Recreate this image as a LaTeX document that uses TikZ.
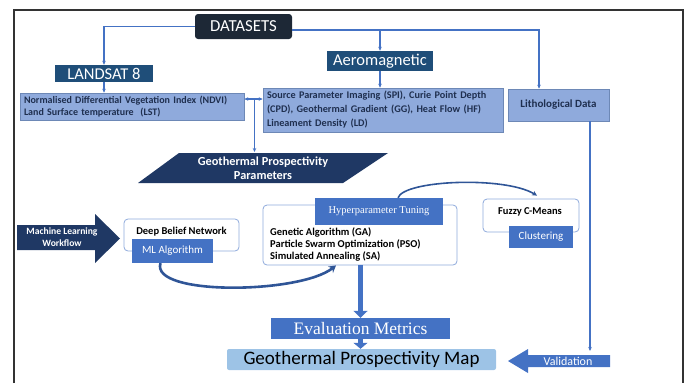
\documentclass[tikz,border=0pt]{standalone}
\usepackage{fontspec}
\setmainfont{Carlito}
\newfontfamily\cambria{Liberation Serif}
\usetikzlibrary{arrows.meta}
\definecolor{inkbox}{HTML}{1D2836}
\definecolor{navy}{HTML}{1F3864}
\definecolor{steel}{HTML}{1F4E79}
\definecolor{accent}{HTML}{4472C4}
\definecolor{paleblue}{HTML}{8FAADC}
\definecolor{skyblue}{HTML}{9DC3E6}
\definecolor{deepblue}{HTML}{2F5597}
\definecolor{txtnavy}{HTML}{1F2F4F}
\begin{document}
\begin{tikzpicture}[x=1pt, y=-1pt,
    conn/.style={draw=accent, line width=1.1pt, -{Stealth[length=4pt,width=3.5pt]}},
    darkhead/.style={fill=steel, text=white, inner sep=0pt, font=\fontsize{16.5}{16}\selectfont},
    databox/.style={fill=paleblue, draw=deepblue!70, line width=0.6pt, inner xsep=4pt, inner ysep=0pt,
      align=left, text=txtnavy, font=\bfseries\fontsize{10}{11.5}\selectfont},
    wbox/.style={draw=paleblue, line width=0.8pt, rounded corners=4pt, fill=white, inner sep=0pt},
    bluetag/.style={fill=accent, text=white, inner sep=0pt, font=\fontsize{11}{11}\selectfont},
    boldtxt/.style={inner sep=0pt, font=\bfseries\fontsize{10.5}{12}\selectfont},
    fatarrow/.style={draw=accent, line width=4.5pt, -{Triangle[width=14pt,length=7pt]}}]
  \useasboundingbox (0,0) rectangle (687,383);
  \draw[line width=1.6pt, black!80] (14,383) -- (14,10) -- (683,10) -- (683,383);

  \node[fill=inkbox, text=white, rounded corners=3pt, minimum width=97pt, minimum height=25pt,
    inner sep=0pt, font=\fontsize{16.8}{16}\selectfont] (dat) at (243.5,26.5) {DATASETS};
  \node[darkhead, minimum width=98pt, minimum height=17pt] (land) at (104,73.5) {LANDSAT 8};
  \node[darkhead, minimum width=106pt, minimum height=20pt] (aero) at (380,61) {Aeromagnetic};

  \node[databox, text width=216pt, minimum height=27pt] (ndvi) at (132,106.5)
    {Normalised Differential Vegetation Index (NDVI)\\Land Surface temperature~ (LST)};
  \node[databox, text width=232pt, minimum height=44pt, font=\bfseries\fontsize{10.2}{14}\selectfont] (spi) at (383,110)
    {Source Parameter Imaging (SPI), Curie Point Depth\\(CPD), Geothermal Gradient (GG), Heat Flow (HF)\\Lineament Density (LD)};
  \node[databox, align=center, minimum width=101pt, minimum height=32pt, inner xsep=0pt,
    font=\bfseries\fontsize{11}{12}\selectfont] (lith) at (558.5,105) {Lithological Data};

  \coordinate (dsr) at ([yshift=-3.5pt]dat.east);
  \draw[conn] (dat.west) -| (land.north);
  \draw[conn] (dsr) -| ([xshift=-19.5pt]lith.north);
  \draw[conn] (dsr -| aero.north) -- (aero.north);
  \draw[conn] (land.south) -- (land.south |- ndvi.north);
  \draw[conn] (aero.south) -- (aero.south |- spi.north);

  \fill[navy] (138,183) -- (179,153) -- (388,153) -- (343,183) -- cycle;
  \node[text=white, align=center, inner sep=0pt, font=\bfseries\fontsize{12.3}{14}\selectfont] (gpp) at (263,168)
    {Geothermal Prospectivity\\Parameters};
  \coordinate (jn) at (254.5,99);
  \coordinate (gpptop) at (254.5,152);
  \draw[conn] (jn) -- (jn -| ndvi.east);
  \draw[conn] (jn) -- (jn -| spi.west);
  \draw[conn] (jn) -- (gpptop);

  \fill[navy] (17,225) -- (95,225) -- (95,214) -- (120,238.5) -- (95,263) -- (95,250) -- (17,250) -- cycle;
  \node[text=white, align=center, inner sep=0pt, font=\bfseries\fontsize{9.6}{11.5}\selectfont] (mlw) at (62,237)
    {Machine Learning\\Workflow};

  \node[wbox, minimum width=115pt, minimum height=32pt] (dbn) at (181.5,235) {};
  \node[boldtxt] (dbntxt) at (181.5,231.5) {Deep Belief Network};
  \node[bluetag, minimum width=81pt, minimum height=24pt] (mla) at (172.5,251) {ML Algorithm};

  \node[wbox, minimum width=194pt, minimum height=60pt] (hyp) at (360,235) {};
  \node[boldtxt, align=left, anchor=west, font=\bfseries\fontsize{10.5}{11.7}\selectfont] (hyptxt) at (270,244.5)
    {Genetic Algorithm (GA)\\Particle Swarm Optimization (PSO)\\Simulated Annealing (SA)};
  \node[bluetag, minimum width=128pt, minimum height=27pt, font=\cambria\fontsize{10.5}{12}\selectfont] (hyt) at (379,211.5)
    {Hyperparameter Tuning};

  \node[wbox, minimum width=96pt, minimum height=33pt] (fuz) at (531,215.5) {};
  \node[boldtxt] (fuztxt) at (530,212) {Fuzzy C-Means};
  \node[bluetag, minimum width=64pt, minimum height=22pt] (clu) at (541,237) {Clustering};

  \draw[deepblue, line width=1.6pt, -{Stealth[length=5pt,width=5pt]}]
    ([xshift=19pt]hyt.north) .. controls (404,180) and (505,176) .. ([xshift=6pt,yshift=3pt]fuz.north);
  \draw[deepblue, line width=2.6pt, -{Stealth[length=7pt,width=8pt]}]
    ([xshift=-12pt]mla.south) .. controls (150,296) and (300,294) .. ([xshift=-24pt]hyp.south);

  \node[bluetag, minimum width=179pt, minimum height=21pt, font=\cambria\fontsize{17.5}{14}\selectfont] (eval) at (360.5,328.5)
    {Evaluation Metrics};
  \node[fill=skyblue, rounded corners=2pt, minimum width=269pt, minimum height=21pt, inner sep=0pt,
    font=\fontsize{19}{17}\selectfont] (map) at (361.5,359.5) {Geothermal Prospectivity Map};
  \draw[fatarrow] (eval.north |- hyp.south) -- (eval.north);
  \draw[accent, line width=4.5pt, -{Triangle[width=14pt,length=6pt]}] (eval.south) -- (eval.south |- map.north);

  \fill[accent] (508,361) -- (528,349) -- (528,355) -- (610,355) -- (610,367) -- (528,367) -- (528,373) -- cycle;
  \node[text=white, inner sep=0pt, font=\fontsize{12}{12}\selectfont] (valid) at (568,361) {Validation};
  \coordinate (vtop) at (590,351);
  \draw[conn] ([xshift=31.5pt]lith.south) -- (vtop);
\end{tikzpicture}
\end{document}
